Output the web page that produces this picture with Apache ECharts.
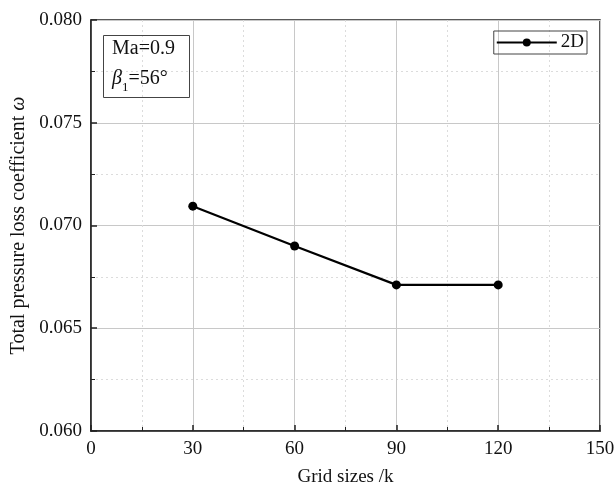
<!DOCTYPE html>
<html><head><meta charset="utf-8">
<script src="https://cdn.jsdelivr.net/npm/echarts@6/dist/echarts.min.js"></script>
<style>html,body{margin:0;padding:0;background:#fff}#c{width:616px;height:490px}</style>
</head><body><div id="c"></div>
<script>
const gridSizes = [30, 60, 90, 120];
const lossCoeff = [0.07094, 0.06900, 0.06711, 0.06711];
const seriesName = '2D';
const xTicks = {min: 0, max: 150, interval: 30};
const yTicks = {min: 0.060, max: 0.080, interval: 0.005};

const F = '"Liberation Serif", "Times New Roman", serif';
const chart = echarts.init(document.getElementById('c'), null, {renderer: 'canvas'});
chart.setOption({
  animation: false,
  backgroundColor: '#fff',
  grid: {left: 91, right: 16, top: 20, bottom: 59, outerBoundsMode: 'none', containLabel: false,
         show: true, borderColor: '#222', borderWidth: 1.5, backgroundColor: 'transparent'},
  title: {
    left: 103, top: 30,
    text: '{a|Ma=0.9}\n{b|β}{s|1}{a|=56°}',
    borderColor: '#444', borderWidth: 1,
    padding: [4, 15, 4, 9],
    textStyle: {
      fontWeight: 'normal',
      rich: {
        a: {fontFamily: F, fontSize: 20, fontWeight: 'normal', color: '#111', lineHeight: 30},
        b: {fontFamily: F, fontSize: 20, fontStyle: 'italic', fontWeight: 'normal', color: '#111', lineHeight: 30},
        s: {fontFamily: F, fontSize: 13, fontWeight: 'normal', color: '#111', lineHeight: 30, verticalAlign: 'bottom'}
      }
    }
  },
  legend: {
    right: 29, top: 31,
    data: [seriesName],
    borderColor: '#444', borderWidth: 1,
    padding: [2, 3, 2, 2],
    itemWidth: 60, itemHeight: 10, itemGap: 4,
    textStyle: {fontFamily: F, fontSize: 19, color: '#111', padding: [0, 0, 0, -1]}
  },
  xAxis: {
    type: 'value', min: xTicks.min, max: xTicks.max, interval: xTicks.interval,
    name: 'Grid sizes /k', nameLocation: 'middle', nameGap: 37,
    nameTextStyle: {fontFamily: F, fontSize: 19, color: '#111'},
    axisLine: {show: true, onZero: false, lineStyle: {color: '#222', width: 1.5}},
    axisTick: {show: true, inside: true, length: 6, lineStyle: {color: '#222', width: 1.5}},
    minorTick: {show: true, splitNumber: 2, length: 4, lineStyle: {color: '#222', width: 1}},
    axisLabel: {fontFamily: F, fontSize: 19, color: '#111', margin: 9},
    splitLine: {show: true, lineStyle: {color: '#c8c8c8', width: 1}},
    minorSplitLine: {show: true, lineStyle: {color: '#dcdcdc', width: 1, type: [2, 3]}}
  },
  yAxis: {
    type: 'value', min: yTicks.min, max: yTicks.max, interval: yTicks.interval,
    name: 'Total pressure loss coefficient {i|ω}', nameLocation: 'middle', nameGap: 56, nameRotate: 90,
    nameTextStyle: {fontFamily: F, fontSize: 20, color: '#111', rich: {i: {fontFamily: F, fontSize: 20, fontStyle: 'italic', color: '#111'}}},
    axisLine: {show: true, onZero: false, lineStyle: {color: '#222', width: 1.5}},
    axisTick: {show: true, inside: true, length: 6, lineStyle: {color: '#222', width: 1.5}},
    minorTick: {show: true, splitNumber: 2, length: 4, lineStyle: {color: '#222', width: 1}},
    axisLabel: {fontFamily: F, fontSize: 19, color: '#111', margin: 9, formatter: v => v.toFixed(3)},
    splitLine: {show: true, lineStyle: {color: '#c8c8c8', width: 1}},
    minorSplitLine: {show: true, lineStyle: {color: '#dcdcdc', width: 1, type: [2, 3]}}
  },
  series: [{
    name: seriesName, type: 'line',
    data: gridSizes.map((x, i) => [x, lossCoeff[i]]),
    symbol: 'circle', symbolSize: 9,
    lineStyle: {color: '#000', width: 2.2},
    itemStyle: {color: '#000'}
  }]
});
</script></body></html>
